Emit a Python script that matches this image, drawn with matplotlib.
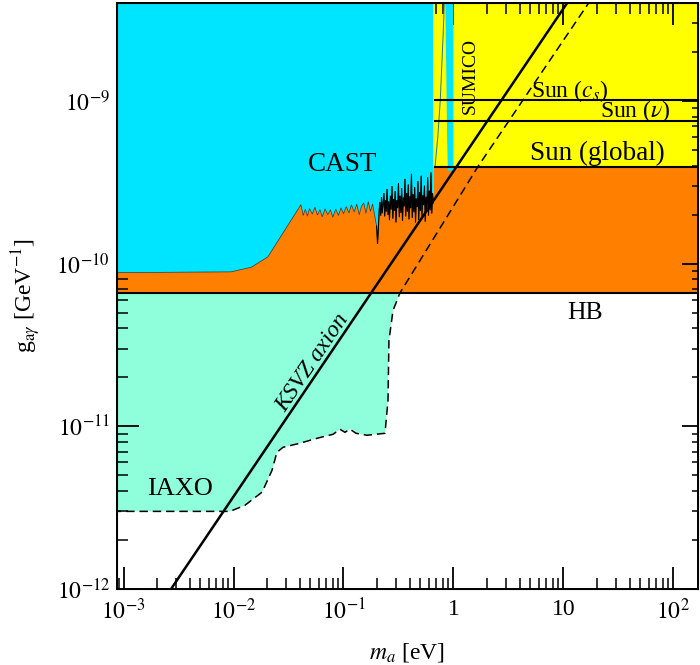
import numpy as np
import matplotlib.pyplot as plt
from matplotlib.ticker import FixedLocator, LogLocator, NullFormatter

plt.rcParams['font.family'] = ['Liberation Serif', 'DejaVu Serif']
plt.rcParams['mathtext.fontset'] = 'stix'

# plot range
ma_min, ma_max = 8.7e-4, 167.0
g_min, g_max = 1e-12, 4e-9

# horizontal bounds (GeV^-1)
g_hb = 6.6e-11
g_sun_global = 3.95e-10
g_sun_nu = 7.5e-10
g_sun_cs = 1.02e-9
ma_sun_start = 0.66

# CAST limit (g in 1e-10 GeV^-1)
cast_ma = [8.7e-4, 0.0095, 0.0145, 0.0205, 0.041,
           0.043, 0.045, 0.047, 0.049, 0.052, 0.055, 0.058, 0.061, 0.064, 0.068,
           0.072, 0.076, 0.080, 0.085, 0.090, 0.095, 0.100, 0.106, 0.112, 0.118,
           0.125, 0.132, 0.139, 0.146, 0.153, 0.160, 0.168, 0.176, 0.184, 0.192,
           0.200, 0.204, 0.207, 0.211, 0.214, 0.218, 0.222, 0.225, 0.229, 0.233,
           0.237, 0.241, 0.245, 0.249, 0.254, 0.258, 0.262, 0.267, 0.271, 0.276,
           0.281, 0.285, 0.290, 0.295, 0.300, 0.306, 0.311, 0.316, 0.322, 0.327,
           0.333, 0.338, 0.344, 0.350, 0.356, 0.362, 0.368, 0.375, 0.381, 0.388,
           0.394, 0.401, 0.408, 0.415, 0.422, 0.429, 0.437, 0.444, 0.452, 0.459,
           0.467, 0.475, 0.483, 0.492, 0.500, 0.509, 0.517, 0.526, 0.535, 0.545,
           0.554, 0.563, 0.573, 0.583, 0.593, 0.603, 0.614, 0.624, 0.635, 0.646,
           0.657]
cast_g = [0.88, 0.89, 0.95, 1.10, 2.30,
          1.98, 2.16, 1.96, 2.18, 2.02, 2.22, 1.99, 2.15, 1.94, 2.17,
          2.00, 2.14, 1.93, 2.16, 1.98, 2.20, 2.03, 2.24, 2.05, 2.30,
          2.08, 2.32, 2.00, 2.26, 2.36, 2.04, 2.40, 2.10, 2.32, 1.98,
          1.70, 1.33, 1.58, 2.10, 2.38, 1.98, 2.55, 2.05, 2.32, 2.70,
          1.96, 2.44, 2.10, 2.86, 2.00, 2.40, 1.86, 2.60, 2.16, 2.98,
          1.90, 2.48, 2.12, 2.78, 1.80, 2.44, 2.22, 3.10, 1.94, 2.60,
          2.06, 2.90, 1.84, 2.54, 2.26, 3.30, 1.96, 2.70, 2.10, 3.05,
          1.88, 2.58, 2.20, 3.55, 1.92, 2.66, 2.08, 2.94, 1.80, 2.50,
          2.24, 3.20, 1.86, 2.74, 2.12, 3.45, 1.94, 2.62, 2.30, 3.00,
          1.82, 2.56, 2.18, 3.38, 1.98, 2.80, 2.14, 3.62, 2.04, 2.70,
          2.36]

# high-mass edge of the CAST region
cast_tail_ma = [0.68, 0.72, 0.758, 0.806, 0.83]
cast_tail_g = [3.95e-10, 6.0e-10, 1.0e-9, 2.57e-9, 4.5e-9]

# SUMICO strip
sumico_ma = [0.84, 0.86, 0.875, 0.89, 1.0, 1.0]
sumico_g = [5e-9, 1.5e-9, 6e-10, 3.72e-10, 3.72e-10, 5e-9]

# IAXO sensitivity
iaxo_ma = [8e-4, 9.3e-3, 0.0127, 0.0182, 0.0224, 0.0248, 0.0282, 0.0402,
           0.0574, 0.0803, 0.0929, 0.103, 0.1146, 0.130, 0.1636, 0.2384,
           0.254, 0.259, 0.282, 0.326]
iaxo_g = [3.0e-12, 3.0e-12, 3.27e-12, 3.94e-12, 5.37e-12, 6.92e-12, 7.43e-12, 7.87e-12,
          8.44e-12, 8.93e-12, 9.59e-12, 9.19e-12, 9.59e-12, 9.06e-12, 8.81e-12, 9.06e-12,
          1.44e-11, 3.37e-11, 5.15e-11, 6.6e-11]
iaxo_hi_ma = [1.67, 16.7, 19.0]
iaxo_hi_g = [3.95e-10, 3.94e-9, 4.5e-9]

# KSVZ axion line
ksvz_ma = [1e-3, 1e2]
ksvz_g = [3.7e-13, 3.7e-8]

x_ticks = [1e-3, 1e-2, 1e-1, 1, 10, 100]
x_tick_labels = ['$10^{-3}$', '$10^{-2}$', '$10^{-1}$', '1', '10', '$10^{2}$']
y_ticks = [1e-12, 1e-11, 1e-10, 1e-9]
y_tick_labels = ['$10^{-12}$', '$10^{-11}$', '$10^{-10}$', '$10^{-9}$']

c_cyan = '#00e5ff'
c_orange = '#ff8000'
c_yellow = '#ffff00'
c_iaxo = '#8effda'

fig = plt.figure(figsize=(7, 6.65), dpi=100)
ax = fig.add_axes([0.167, 0.1143, 0.83, 0.8812])
ax.set_xscale('log')
ax.set_yscale('log')
ax.set_xlim(ma_min, ma_max)
ax.set_ylim(g_min, g_max)

cg = list(np.array(cast_g) * 1e-10)
lo, hi = ma_min * 0.5, ma_max * 2
top = 1e-8

# solar region
ax.fill([ma_sun_start, hi, hi, ma_sun_start],
        [g_sun_global, g_sun_global, top, top], color=c_yellow, lw=0, zorder=1)
# HB / CAST excluded band
ax.fill([lo] + cast_ma + [cast_ma[-1], hi, hi, lo],
        [cg[0]] + cg + [g_sun_global, g_sun_global, g_hb, g_hb],
        color=c_orange, lw=0, zorder=1)
# CAST region
ax.fill([lo] + cast_ma + [cast_ma[-1], lo],
        [cg[0]] + cg + [top, top], color=c_cyan, lw=0, zorder=2)
ax.fill(sumico_ma, sumico_g, color=c_cyan, lw=0, zorder=2)
ax.plot(cast_tail_ma, cast_tail_g, color='#1b7f8a', lw=0.7, zorder=3)
ax.plot(cast_ma, cg, color='#3a2a20', lw=0.5, zorder=3)
ax.plot(cast_ma[35:], cg[35:], color='k', lw=0.8, zorder=3)

# IAXO
ax.fill(iaxo_ma + [lo], iaxo_g + [g_hb], color=c_iaxo, lw=0, zorder=1)
ax.plot(iaxo_ma + iaxo_hi_ma, iaxo_g + iaxo_hi_g, color='k', lw=1.1,
        ls=(0, (5.5, 3.2)), zorder=4)

# limits
ax.axhline(g_hb, color='k', lw=1.5, zorder=4)
ax.hlines([g_sun_global, g_sun_nu, g_sun_cs], ma_sun_start, hi,
          colors='k', lw=1.5, zorder=4)
ax.plot(ksvz_ma, ksvz_g, color='k', lw=1.8, zorder=5)

# labels
ax.text(0.099, 4.05e-10, 'CAST', fontsize=19.5, ha='center', va='center', zorder=6)
ax.text(1.41, 1.42e-9, 'SUMICO', fontsize=14, rotation=90, ha='center', va='center', zorder=6)
ax.text(11.5, 1.15e-9, 'Sun ($c_s$)', fontsize=17, ha='center', va='center', zorder=6)
ax.text(44.7, 8.69e-10, r'Sun ($\nu$)', fontsize=17, ha='center', va='center', zorder=6)
ax.text(20.2, 4.73e-10, 'Sun (global)', fontsize=19.5, ha='center', va='center', zorder=6)
ax.text(15.7, 5.0e-11, 'HB', fontsize=18.5, ha='center', va='center', zorder=6)
ax.text(3.27e-3, 4.1e-12, 'IAXO', fontsize=19, ha='center', va='center', zorder=6)

p1, p2 = ax.transData.transform([(ksvz_ma[0], ksvz_g[0]), (ksvz_ma[1], ksvz_g[1])])
angle = np.degrees(np.arctan2(p2[1] - p1[1], p2[0] - p1[0]))
ax.text(0.0528, 2.44e-11, 'KSVZ axion', fontsize=17, style='italic',
        rotation=angle, rotation_mode='anchor', ha='center', va='center', zorder=6)

# axes and ticks
ax.xaxis.set_major_locator(FixedLocator(x_ticks))
ax.set_xticklabels(x_tick_labels)
ax.yaxis.set_major_locator(FixedLocator(y_ticks))
ax.set_yticklabels(y_tick_labels)
for axis in (ax.xaxis, ax.yaxis):
    axis.set_minor_locator(LogLocator(base=10, subs=np.arange(2, 10), numticks=30))
    axis.set_minor_formatter(NullFormatter())
ax.tick_params(which='both', direction='in', top=True, right=False, labelsize=17)
ax.tick_params(which='major', length=16, width=1.3)
ax.tick_params(which='minor', length=8, width=1.1)
ax.tick_params(axis='x', pad=7)
ax.tick_params(axis='y', pad=5)
for s in ax.spines.values():
    s.set_linewidth(1.4)
    s.set_zorder(10)

ax2 = ax.twinx()
ax2.set_yscale('log')
ax2.set_ylim(g_min, g_max)
ax2.yaxis.set_major_locator(FixedLocator(y_ticks))
ax2.yaxis.set_minor_locator(LogLocator(base=10, subs=np.arange(2, 10), numticks=30))
ax2.yaxis.set_minor_formatter(NullFormatter())
ax2.tick_params(which='both', direction='in', labelright=False)
ax2.tick_params(which='major', length=11.5, width=1.3)
ax2.tick_params(which='minor', length=4.5, width=1.1)

ax.set_xlabel('$m_a$ [eV]', fontsize=17, labelpad=12)
ax.set_ylabel(r'g$_{\mathrm{a}\gamma}$ [GeV$^{-1}$]', fontsize=17, labelpad=10)

fig.savefig('out.png', dpi=100)
